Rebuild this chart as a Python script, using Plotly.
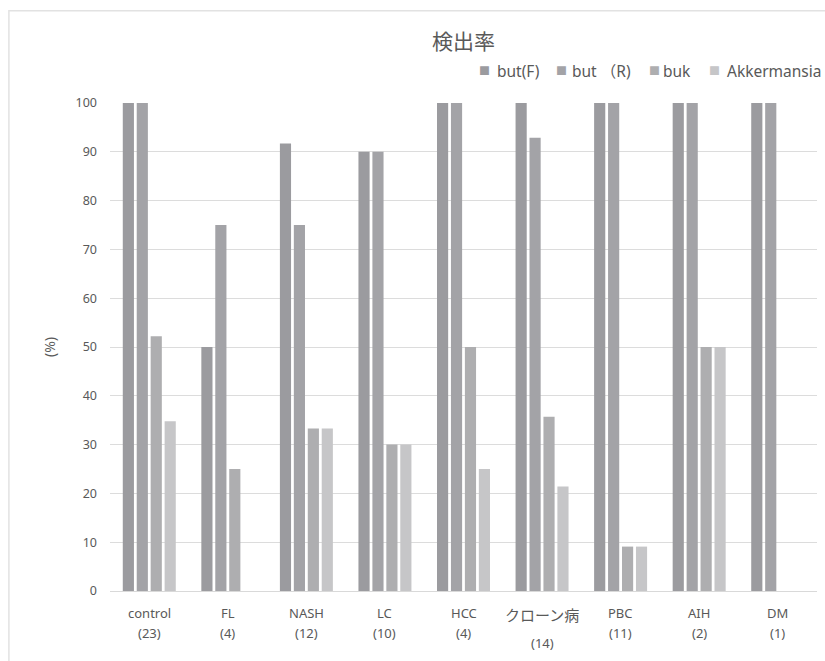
import plotly.graph_objects as go

# Groups (name and sample count)
groups = ["control", "FL", "NASH", "LC", "HCC", "クローン病", "PBC", "AIH", "DM"]
counts = [23, 4, 12, 10, 4, 14, 11, 2, 1]

# Detection rate (%) per marker
series_names = ["but(F)", "but （R)", "buk", "Akkermansia"]
but_f = [100, 50, 91.7, 90, 100, 100, 100, 100, 100]
but_r = [100, 75, 75, 90, 100, 92.9, 100, 100, 100]
buk = [52.2, 25, 33.3, 30, 50, 35.7, 9.1, 50, 0]
akkermansia = [34.8, 0, 33.3, 30, 25, 21.4, 9.1, 50, 0]

y_ticks = list(range(0, 101, 10))

colors = ["#9b9b9f", "#a3a3a7", "#aeaeb0", "#c6c6c8"]
text_color = "#595959"
font_family = "Noto Sans, Noto Sans CJK JP, sans-serif"

fig = go.Figure()
for name, vals, col in zip(series_names, [but_f, but_r, buk, akkermansia], colors):
    fig.add_trace(go.Bar(x=groups, y=vals, name=name, marker_color=col,
                         marker_line_width=0, showlegend=False))

# Category labels: group name with the sample count underneath
for g, n in zip(groups, counts):
    big = g == "クローン病"
    fig.add_annotation(x=g, xref="x", y=0, yref="y", yanchor="top",
                       yshift=-12 if big else -11, showarrow=False,
                       text=g, font=dict(size=15 if big else 13, color=text_color))
    fig.add_annotation(x=g, xref="x", y=0, yref="y", yanchor="top",
                       yshift=-41 if big else -31, showarrow=False,
                       text=f"({n})", font=dict(size=13, color=text_color))

# Legend row across the top right: a small square key followed by the name
key_x = [0.519, 0.628, 0.760, 0.844]
label_x = [0.544, 0.651, 0.780, 0.870]
legend_y = 1.066
for name, col, kx, lx in zip(series_names, colors, key_x, label_x):
    fig.add_annotation(x=kx, xref="paper", y=legend_y, yref="paper",
                       xanchor="left", yanchor="middle", showarrow=False,
                       text="■", font=dict(size=11, color=col))
    fig.add_annotation(x=lx, xref="paper", y=legend_y, yref="paper",
                       xanchor="left", yanchor="middle", showarrow=False,
                       text=name, font=dict(size=15.5, color=text_color))

# Outer frame of the chart
fig.add_shape(type="rect", xref="paper", yref="paper",
              x0=-0.143, x1=1.2, y0=-0.2, y1=1.189,
              line=dict(color="#e2e2e2", width=1.5), layer="below")

fig.update_layout(
    width=825, height=661,
    margin=dict(l=110, r=8, t=103, b=70),
    paper_bgcolor="white", plot_bgcolor="white",
    font=dict(family=font_family, color=text_color),
    title=dict(text="検出率", x=0.5, xanchor="center", xref="paper",
               y=0.937, yanchor="middle", font=dict(size=21, color=text_color)),
    barmode="group", bargap=0.29, bargroupgap=0.2,
    showlegend=False,
)
fig.update_xaxes(showticklabels=False, showgrid=False, showline=True,
                 linecolor="#d9d9d9", linewidth=1, ticks="", fixedrange=True)
fig.update_yaxes(range=[0, 100], tickvals=y_ticks, showgrid=True,
                 gridcolor="#dcdcdc", gridwidth=1, zeroline=False,
                 tickfont=dict(size=12.5, color=text_color), ticks="",
                 ticklabelstandoff=12,
                 title=dict(text="(%)", standoff=16, font=dict(size=14, color=text_color)))

fig.write_html("out.html")
